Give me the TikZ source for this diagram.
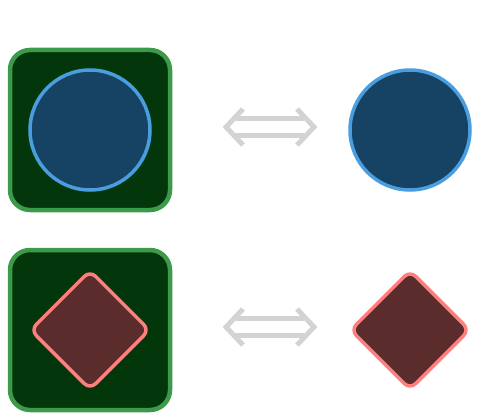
\documentclass[tikz,border=0pt]{standalone}
\usetikzlibrary{shapes.geometric,calc}
\definecolor{boxgreen}{HTML}{3C9A4B}
\definecolor{boxfill}{HTML}{04360C}
\definecolor{circfill}{HTML}{164263}
\definecolor{circline}{HTML}{4A9EE0}
\definecolor{diafill}{HTML}{5A2C2C}
\definecolor{dialine}{HTML}{FF7F7F}
\definecolor{arrowgray}{HTML}{D3D3D3}
\tikzset{
  sqbox/.style={draw=boxgreen, fill=boxfill, line width=4.5pt, rectangle, rounded corners=20pt, minimum size=160pt, inner sep=0pt},
  circbox/.style={draw=circline, fill=circfill, line width=3.5pt, circle, minimum size=120pt, inner sep=0pt},
  diabox/.style={draw=dialine, fill=diafill, line width=3.5pt, diamond, aspect=1, rounded corners=8pt, minimum size=120pt, inner sep=0pt},
  eqarrow/.style={draw=arrowgray, line width=5pt, line join=miter}
}
\begin{document}
\begin{tikzpicture}[x=1pt,y=-1pt]
\useasboundingbox (0,0) rectangle (480,420);
% top row
\node[sqbox] (sq1) at (90,130) {};
\node[circbox] (c1) at (90,130) {};
\node[circbox] (c2) at (410,130) {};
% bottom row
\node[sqbox] (sq2) at (90,330) {};
\node[diabox] (d1) at (90,330) {};
\node[diabox] (d2) at (410,330) {};
% equivalence arrows
\foreach \yy/\nm in {127/a, 327/b} {
  \coordinate (\nm L) at (226,\yy);
  \coordinate (\nm R) at (314,\yy);
  \draw[eqarrow] (236,\yy-8.5) -- (304,\yy-8.5);
  \draw[eqarrow] (236,\yy+8.5) -- (304,\yy+8.5);
  \draw[eqarrow] ($(\nm L)+(17,-18)$) -- (\nm L) -- ($(\nm L)+(17,18)$);
  \draw[eqarrow] ($(\nm R)+(-17,-18)$) -- (\nm R) -- ($(\nm R)+(-17,18)$);
}
\end{tikzpicture}
\end{document}
